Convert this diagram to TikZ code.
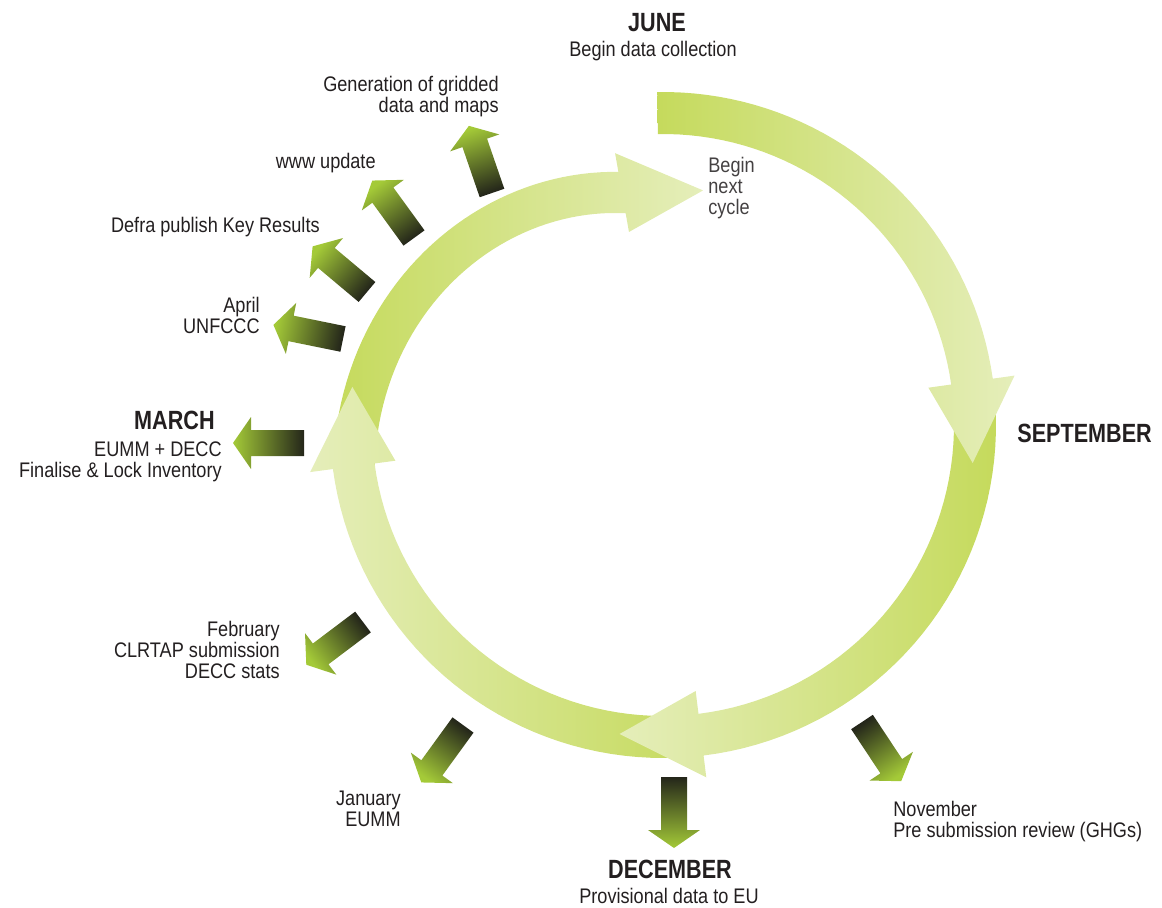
\documentclass[tikz,border=0pt]{standalone}
\usepackage{fontspec}
\setmainfont{Liberation Sans}[FakeStretch=0.86]
\newfontfamily\monthfont{Liberation Sans}[FakeStretch=0.82]
\usetikzlibrary{positioning}
\definecolor{ringdark}{RGB}{197,218,92}
\definecolor{ringlight}{RGB}{229,238,186}
\definecolor{arrowdark}{RGB}{36,38,26}
\definecolor{arrowgreen}{RGB}{164,202,56}
\definecolor{txt}{RGB}{35,31,32}
\newcommand{\outarrow}[2]{%
  \pgfmathsetmacro{\shadeangle}{#2-90}%
  \shade[top color=arrowgreen, bottom color=arrowdark, shading angle=\shadeangle, shift={(#1)}, rotate=#2]
    (0,-13) -- (53,-13) -- (53,-26) -- (71,0) -- (53,26) -- (53,13) -- (0,13) -- cycle;}

\begin{document}
\begin{tikzpicture}[x=0.02cm, y=0.02cm,
  lbl/.style={font=\fontsize{12}{12}\selectfont, text=txt, inner sep=0pt},
  month/.style={font=\monthfont\bfseries\fontsize{15}{15}\selectfont, text=txt, inner sep=0pt}]
\useasboundingbox (0,0) rectangle (1162,907);
\coordinate (o) at (663,482);
\begin{scope}[shift={(o)}]
\shade[left color=ringdark, right color=ringlight]
  plot[domain=188:100, samples=45] (\x:{257+0.8636*(\x-100)}) -- (100:276) -- (80.3:238) -- (100:196)
  -- plot[domain=100:188, samples=45] (\x:{215+0.8636*(\x-100)}) -- cycle;
\shade[left color=ringlight, right color=ringdark]
  plot[domain=-83:-172.4, samples=40] (\x:333) -- (-172.4:356) -- (-187:313) -- (-172.4:270)
  -- plot[domain=-172.4:-83, samples=40] (\x:291) -- cycle;
\shade[left color=ringlight, right color=ringdark]
  plot[domain=8:-83, samples=40] (\x:333) -- (-83:355) -- (-98:312) -- (-83:268)
  -- plot[domain=-83:8, samples=40] (\x:291) -- cycle;
\shade[left color=ringdark, right color=ringlight]
  plot[domain=91:8, samples=40] (\x:333) -- (8:355) -- (-7:312) -- (8:268)
  -- plot[domain=8:91, samples=40] (\x:291) -- cycle;
\end{scope}

\coordinate (gridfoot) at (492,714);
\coordinate (wwwfoot) at (414,669);
\coordinate (defrafoot) at (367,615);
\coordinate (aprfoot) at (343,568);
\coordinate (marfoot) at (304,464);
\coordinate (febfoot) at (363,285);
\coordinate (janfoot) at (463,182);
\coordinate (decfoot) at (674,130);
\coordinate (novfoot) at (862,185);
\outarrow{gridfoot}{109}
\outarrow{wwwfoot}{126}
\outarrow{defrafoot}{140}
\outarrow{aprfoot}{168.5}
\outarrow{marfoot}{180}
\outarrow{febfoot}{217}
\outarrow{janfoot}{234}
\outarrow{decfoot}{270}
\outarrow{novfoot}{303.5}

\node[month, anchor=base] (jun) at (657,875) {JUNE};
\node[lbl, anchor=base] (junt) at (653,850) {Begin data collection};
\node[lbl, anchor=north east, align=right] (grid) at (499,831) {Generation of gridded\\data and maps};
\node[lbl, anchor=base east] (www) at (376,738) {www update};
\node[lbl, anchor=base east] (defra) at (320,674) {Defra publish Key Results};
\node[lbl, anchor=north east, align=right] (apr) at (260,610) {April\\UNFCCC};
\node[month, anchor=base east] (mar) at (215,478) {MARCH};
\node[lbl, anchor=north east, align=right] (mart) at (222,466) {EUMM + DECC\\Finalise \& Lock Inventory};
\node[lbl, anchor=north east, align=right] (feb) at (280,286) {February\\CLRTAP submission\\DECC stats};
\node[lbl, anchor=north east, align=right] (jan) at (401,116) {January\\EUMM};
\node[month, anchor=base] (dec) at (670,29) {DECEMBER};
\node[lbl, anchor=base] (dect) at (669,4) {Provisional data to EU};
\node[lbl, anchor=north west, align=left] (nov) at (893,106) {November\\Pre submission review (GHGs)};
\node[month, anchor=base west] (sep) at (1017,465) {SEPTEMBER};
\node[lbl, anchor=north west, align=left, text=txt!85] (next) at (708,750) {Begin\\next\\cycle};
\end{tikzpicture}
\end{document}
